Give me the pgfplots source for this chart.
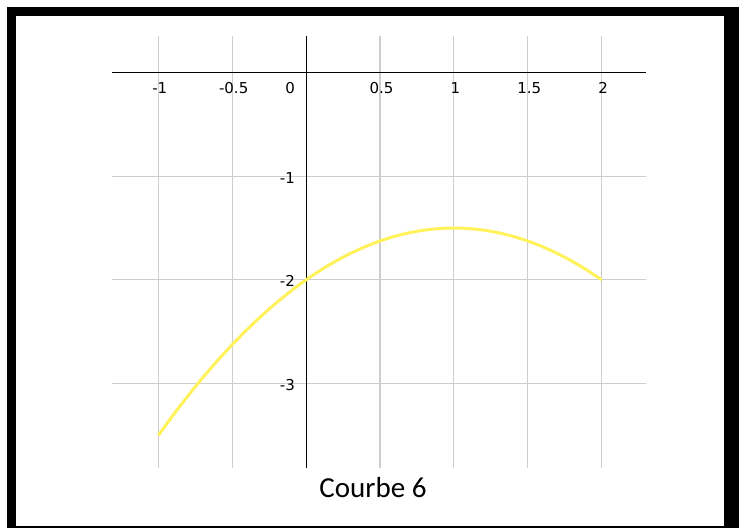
\documentclass[border=0pt]{standalone}
\usepackage{pgfplots}
\pgfplotsset{compat=1.18}
\usepackage{fontspec}
\newfontfamily\tickfont{DejaVu Sans}
\newfontfamily\capfont{Carlito}
\definecolor{curvey}{RGB}{255,242,90}
\definecolor{gridg}{RGB}{205,205,205}
\begin{document}
\begin{tikzpicture}[x=1pt,y=1pt]
\useasboundingbox (0,0) rectangle (739,-528);
\fill[white] (0,0) rectangle (739,-528);
\fill[black] (7,-7) rectangle (739,-528);
\fill[white] (16,-16) rectangle (724,-526);
\begin{axis}[
  at={(112pt,-468pt)}, anchor=south west,
  scale only axis, width=534pt, height=432pt,
  xmin=-1.313, xmax=2.300, ymin=-3.814, ymax=0.352,
  axis lines=middle,
  axis line style={black, line width=1pt, -},
  xtick={-1,-0.5,0.5,1,1.5,2},
  xticklabels={-1,-0.5,0.5,1,1.5,2},
  ytick={-3,-2,-1},
  yticklabels={-3,-2,-1},
  major tick length=0pt,
  grid=major,
  grid style={gridg, line width=1.1pt},
  tick label style={font=\tickfont\fontsize{15}{17}\selectfont, inner sep=0pt},
  x tick label style={anchor=north, yshift=-9.5pt, xshift=1.5pt},
  y tick label style={anchor=east, xshift=-11pt, yshift=-1.5pt},
  clip=false,
]
\addplot[curvey, line width=3pt, smooth] coordinates {
(-1,-3.5) (-0.9,-3.305) (-0.8,-3.12) (-0.7,-2.945) (-0.6,-2.78) (-0.5,-2.625)
(-0.4,-2.48) (-0.3,-2.345) (-0.2,-2.22) (-0.1,-2.105) (0,-2) (0.1,-1.905)
(0.2,-1.82) (0.3,-1.745) (0.4,-1.68) (0.5,-1.625) (0.6,-1.58) (0.7,-1.545)
(0.8,-1.52) (0.9,-1.505) (1,-1.5) (1.1,-1.505) (1.2,-1.52) (1.3,-1.545)
(1.4,-1.58) (1.5,-1.625) (1.6,-1.68) (1.7,-1.745) (1.8,-1.82) (1.9,-1.905) (2,-2)
};
\node[anchor=north east, inner sep=0pt, font=\tickfont\fontsize{15}{17}\selectfont, xshift=-11pt, yshift=-9.5pt] at (axis cs:0,0) {0};
\end{axis}
\node[anchor=base, inner sep=0pt, font=\capfont\fontsize{29}{32}\selectfont] at (373,-497) {Courbe 6};
\end{tikzpicture}
\end{document}
